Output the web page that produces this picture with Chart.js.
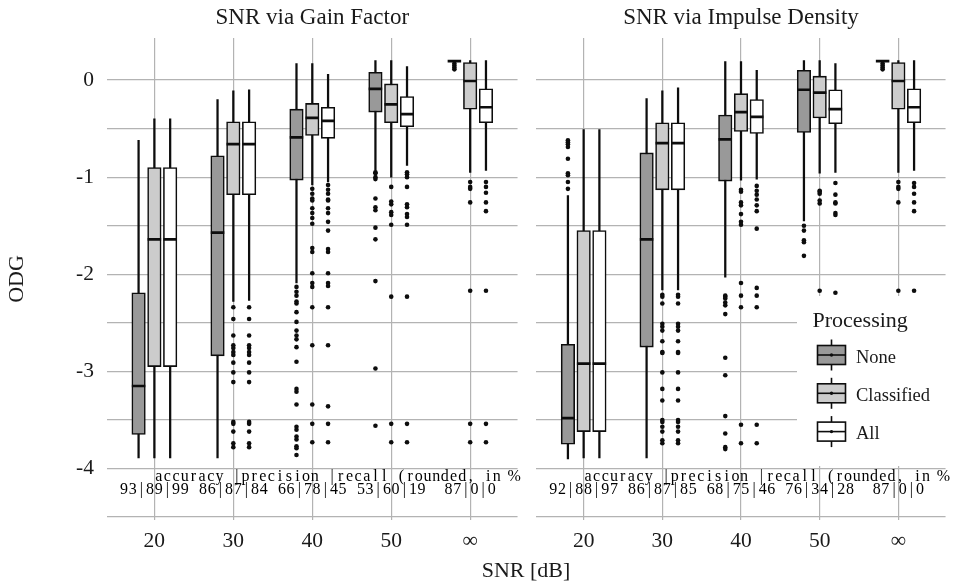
<!DOCTYPE html>
<html lang="en">
<head>
<meta charset="UTF-8">
<title>ODG by SNR</title>
<script src="https://cdn.jsdelivr.net/npm/chart.js"></script>
<style>
    body { margin: 0; background: #fff; overflow: hidden; }
    .wrap { position: relative; width: 955px; height: 585px; font-family: 'Liberation Serif', serif; color: #1a1a1a; }
    canvas { position: absolute; top: 0; }
    #gainChart { left: 0; }
    #impulseChart { left: 527px; }
    .xlabel { position: absolute; left: 426px; width: 200px; top: 559px; line-height: 22px; text-align: center; font-size: 22px; }
</style>
</head>
<body>
<div class="wrap">
    <canvas id="gainChart" width="527" height="585"></canvas>
    <canvas id="impulseChart" width="428" height="585"></canvas>
    <div class="xlabel">SNR [dB]</div>
</div>
<script>
// categories and axes
const snrLabels = ['20', '30', '40', '50', '∞'];
const snrPos = [20, 30, 40, 50, 60];
const processing = ['None', 'Classified', 'All'];
const yGrid = [-4.5, -4, -3.5, -3, -2.5, -2, -1.5, -1, -0.5, 0];

// box stats per SNR: [lower whisker, q1, median, q3, upper whisker]
const gainNone = [
    [-3.89, -3.65, -3.15, -2.19, -0.62],
    [-3.89, -2.84, -1.57, -0.78, -0.20],
    [-2.09, -1.03, -0.59, -0.30, 0.17],
    [-0.93, -0.33, -0.09, 0.08, 0.20],
    [0.195, 0.195, 0.195, 0.195, 0.195]
];
const gainClassified = [
    [-3.89, -2.95, -1.64, -0.90, -0.40],
    [-2.28, -1.18, -0.66, -0.43, -0.11],
    [-1.08, -0.57, -0.39, -0.24, 0.17],
    [-1.00, -0.44, -0.25, -0.04, 0.20],
    [-0.95, -0.30, -0.01, 0.18, 0.20]
];
const gainAll = [
    [-3.89, -2.95, -1.64, -0.90, -0.40],
    [-2.27, -1.18, -0.66, -0.43, -0.10],
    [-1.05, -0.60, -0.42, -0.28, 0.06],
    [-0.88, -0.48, -0.35, -0.17, 0.14],
    [-0.93, -0.44, -0.28, -0.09, 0.20]
];
const impNone = [
    [-3.90, -3.75, -3.48, -2.72, -1.19],
    [-3.89, -2.75, -1.64, -0.75, -0.19],
    [-2.03, -1.04, -0.61, -0.36, 0.19],
    [-1.45, -0.54, -0.10, 0.10, 0.20],
    [0.195, 0.195, 0.195, 0.195, 0.195]
];
const impClassified = [
    [-3.89, -3.62, -2.92, -1.55, -0.51],
    [-2.16, -1.13, -0.65, -0.44, -0.11],
    [-1.03, -0.53, -0.33, -0.14, 0.19],
    [-0.96, -0.39, -0.13, 0.04, 0.20],
    [-0.95, -0.30, -0.01, 0.18, 0.20]
];
const impAll = [
    [-3.89, -3.62, -2.92, -1.55, -0.51],
    [-2.16, -1.13, -0.65, -0.44, -0.08],
    [-1.02, -0.55, -0.38, -0.20, 0.10],
    [-0.95, -0.45, -0.30, -0.10, 0.17],
    [-0.93, -0.44, -0.28, -0.09, 0.20]
];

// outliers per SNR
const gainNoneOut = [
    [],
    [],
    [-2.13, -2.18, -2.22, -2.28, -2.30, -2.39, -2.49, -2.58, -2.63, -2.67, -2.75, -2.90, -3.18, -3.21, -3.34, -3.57, -3.60, -3.67, -3.70, -3.77, -3.79, -3.86],
    [-0.95, -0.96, -1.00, -1.02, -1.22, -1.31, -1.34, -1.52, -1.64, -2.07, -2.97, -3.56],
    [0.17, 0.15, 0.13, 0.11]
];
const gainClassifiedOut = [
    [],
    [-2.34, -2.46, -2.63, -2.73, -2.76, -2.80, -2.83, -2.91, -3.01, -3.11, -3.52, -3.54, -3.62, -3.74, -3.78],
    [-1.12, -1.17, -1.22, -1.24, -1.32, -1.37, -1.42, -1.48, -1.73, -1.77, -1.99, -2.09, -2.13, -2.34, -2.73, -3.34, -3.54, -3.73],
    [-1.10, -1.25, -1.28, -1.36, -1.39, -1.49, -2.23, -3.54, -3.73],
    [-1.05, -1.10, -1.12, -1.26, -2.17, -3.54, -3.73]
];
const gainAllOut = [
    [],
    [-2.34, -2.46, -2.63, -2.73, -2.76, -2.80, -2.83, -2.91, -3.01, -3.11, -3.52, -3.54, -3.62, -3.74, -3.78],
    [-1.08, -1.13, -1.17, -1.23, -1.24, -1.32, -1.37, -1.46, -1.55, -1.74, -1.77, -1.99, -2.09, -2.12, -2.34, -2.73, -3.36, -3.54, -3.73],
    [-0.95, -0.97, -1.00, -1.10, -1.28, -1.31, -1.38, -1.41, -1.49, -2.23, -3.54, -3.73],
    [-1.05, -1.10, -1.16, -1.26, -1.35, -2.17, -3.54, -3.73]
];
const impNoneOut = [
    [-0.62, -0.64, -0.66, -0.69, -0.81, -0.96, -0.98, -1.05, -1.12],
    [],
    [-2.22, -2.23, -2.25, -2.29, -2.32, -2.41, -2.86, -3.04, -3.46, -3.64, -3.78, -3.80],
    [-1.50, -1.55, -1.65, -1.67, -1.81],
    [0.17, 0.15, 0.13, 0.11]
];
const impClassifiedOut = [
    [],
    [-2.21, -2.23, -2.30, -2.51, -2.54, -2.58, -2.69, -2.80, -2.81, -3.01, -3.18, -3.30, -3.50, -3.52, -3.57, -3.62, -3.71, -3.74],
    [-1.13, -1.15, -1.26, -1.29, -1.38, -1.46, -1.49, -2.09, -2.22, -2.34, -3.55, -3.74],
    [-1.14, -1.15, -1.17, -1.24, -1.27, -2.17],
    [-1.05, -1.10, -1.12, -1.26, -2.17]
];
const impAllOut = [
    [],
    [-2.21, -2.23, -2.30, -2.51, -2.54, -2.58, -2.69, -2.80, -2.81, -3.01, -3.18, -3.30, -3.50, -3.52, -3.57, -3.62, -3.71, -3.74],
    [-1.09, -1.14, -1.18, -1.23, -1.29, -1.35, -1.53, -2.14, -2.22, -2.34, -3.55, -3.74],
    [-1.06, -1.18, -1.26, -1.27, -1.37, -1.39, -2.19],
    [-1.06, -1.10, -1.17, -1.26, -1.35, -2.17]
];

// classifier scores printed under the boxes
const scoreHeader = 'accuracy |precision |recall (rounded, in %';
const gainScores = ['93|89|99', '86|87|84', '66|78|45', '53|60|19', '87|0|0'];
const impulseScores = ['92|88|97', '86|87|85', '68|75|46', '76|34|28', '87|0|0'];

// styling
const fills = ['#999999', '#cccccc', '#ffffff'];
const dodge = [-2, 0, 2];
const ink = '#0d0d0d';
const textInk = '#1a1a1a';
const gridColor = '#b3b3b3';
const serif = "'Liberation Serif', serif";

function boxDatasets(stats, outliers) {
    const sets = [];
    processing.forEach((name, g) => {
        const xs = snrPos.map(p => p + dodge[g]);
        sets.push({
            type: 'bar', label: name + ' whiskers',
            data: stats[g].map((s, i) => ({ x: xs[i], y: [s[0], s[4]] })),
            backgroundColor: ink, borderWidth: 0, barThickness: 1.6, grouped: false, order: 3
        });
        sets.push({
            type: 'bar', label: name,
            data: stats[g].map((s, i) => ({ x: xs[i], y: [s[1], s[3]] })),
            backgroundColor: fills[g], borderColor: ink, borderWidth: 1.6, borderSkipped: false,
            barThickness: 13.5, grouped: false, order: 2
        });
        sets.push({
            type: 'scatter', label: name + ' median',
            data: stats[g].map((s, i) => ({ x: xs[i], y: s[2] })),
            pointStyle: 'line', pointRadius: 6.75, borderColor: ink, borderWidth: 2.7, order: 1
        });
        sets.push({
            type: 'scatter', label: name + ' outliers',
            data: outliers[g].flatMap((vals, i) => vals.map(v => ({ x: xs[i], y: v }))),
            pointRadius: 2.3, backgroundColor: ink, borderWidth: 0, order: 0
        });
    });
    return sets;
}

// fixed-pitch text, one char per cell
function drawMono(ctx, text, x, y, align) {
    const cell = 8.67;
    const start = align === 'center' ? x - text.length * cell / 2 : x;
    ctx.textAlign = 'center';
    [...text].forEach((ch, i) => ctx.fillText(ch, start + (i + 0.5) * cell, y));
}

function drawLegend(ctx) {
    ctx.fillStyle = '#fff';
    ctx.fillRect(270, 296, 160, 170);
    ctx.fillStyle = textInk;
    ctx.textAlign = 'left';
    ctx.textBaseline = 'alphabetic';
    ctx.font = '22px ' + serif;
    ctx.fillText('Processing', 285.5, 326.5);
    processing.forEach((name, g) => {
        const cy = 355 + g * 38.3;
        const cx = 304.5;
        ctx.strokeStyle = ink;
        ctx.lineWidth = 1.6;
        ctx.beginPath();
        ctx.moveTo(cx, cy - 15.5);
        ctx.lineTo(cx, cy + 15.5);
        ctx.stroke();
        ctx.fillStyle = fills[g];
        ctx.fillRect(290.5, cy - 9.5, 28, 19);
        ctx.strokeRect(290.5, cy - 9.5, 28, 19);
        ctx.beginPath();
        ctx.moveTo(290.5, cy);
        ctx.lineTo(318.5, cy);
        ctx.stroke();
        ctx.fillStyle = ink;
        ctx.beginPath();
        ctx.arc(cx, cy, 1.7, 0, Math.PI * 2);
        ctx.fill();
        ctx.fillStyle = textInk;
        ctx.font = '18.5px ' + serif;
        ctx.fillText(name, 329, cy + 7.5);
    });
}

function panelPlugin(title, scores, withLegend) {
    return {
        id: 'panelDecor',
        afterDatasetsDraw(chart) {
            const { ctx, chartArea, scales: { x, y } } = chart;
            ctx.save();
            ctx.fillStyle = textInk;
            ctx.textBaseline = 'alphabetic';
            ctx.font = '23px ' + serif;
            ctx.textAlign = 'center';
            ctx.fillText(title, (chartArea.left + chartArea.right) / 2, 23.5);
            ctx.fillStyle = '#000';
            ctx.font = '16px ' + serif;
            drawMono(ctx, scoreHeader, x.getPixelForValue(snrPos[0]), y.getPixelForValue(-4.127), 'left');
            scores.forEach((s, i) => drawMono(ctx, s, x.getPixelForValue(snrPos[i]), y.getPixelForValue(-4.267), 'center'));
            if (withLegend) drawLegend(ctx);
            ctx.restore();
        }
    };
}

function panelOptions(showY) {
    return {
        responsive: false,
        animation: false,
        events: [],
        layout: { padding: { top: 38, right: 8, left: 0, bottom: 0 } },
        plugins: { legend: { display: false }, tooltip: { enabled: false } },
        scales: {
            x: {
                type: 'linear', min: 14, max: 66, offset: false,
                afterBuildTicks: s => { s.ticks = snrPos.map(v => ({ value: v })); },
                afterFit: s => { s.height = 65; },
                ticks: {
                    autoSkip: false, maxRotation: 0, padding: 8, color: textInk,
                    font: { family: serif, size: 21.5 },
                    callback: (v, i) => snrLabels[i]
                },
                grid: { color: gridColor, lineWidth: 1.2, drawTicks: false, offset: false },
                border: { display: false }
            },
            y: {
                type: 'linear', min: -4.53, max: 0.433,
                afterBuildTicks: s => { s.ticks = yGrid.map(v => ({ value: v })); },
                afterFit: s => { s.width = showY ? 107 : 8; },
                ticks: {
                    display: showY, autoSkip: false, padding: 13, color: textInk,
                    font: { family: serif, size: 21.5 },
                    callback: v => (v % 1 === 0 ? String(v) : '')
                },
                title: {
                    display: showY, text: 'ODG', color: textInk,
                    font: { family: serif, size: 22 }, padding: { top: 4, bottom: 0 }
                },
                grid: { color: gridColor, lineWidth: 1.2, drawTicks: false },
                border: { display: false }
            }
        }
    };
}

new Chart(document.getElementById('gainChart'), {
    type: 'scatter',
    data: { datasets: boxDatasets([gainNone, gainClassified, gainAll], [gainNoneOut, gainClassifiedOut, gainAllOut]) },
    options: panelOptions(true),
    plugins: [panelPlugin('SNR via Gain Factor', gainScores, false)]
});

new Chart(document.getElementById('impulseChart'), {
    type: 'scatter',
    data: { datasets: boxDatasets([impNone, impClassified, impAll], [impNoneOut, impClassifiedOut, impAllOut]) },
    options: panelOptions(false),
    plugins: [panelPlugin('SNR via Impulse Density', impulseScores, true)]
});
</script>
</body>
</html>
